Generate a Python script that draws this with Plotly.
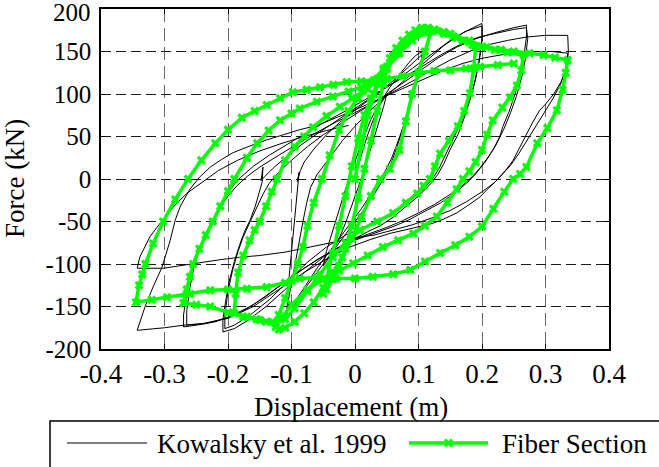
import plotly.graph_objects as go

# ---------------------------------------------------------------
# Cyclic force-displacement response: (displacement m, force kN)
# ---------------------------------------------------------------

# Kowalsky et al. 1999 test record
kow_cycle_1 = [(0, 0), (0.01, 28), (0.02, 52), (0.03, 72), (0.04, 88), (0.05, 100), (0.045, 85),
               (0.035, 60), (0.025, 35), (0.015, 12), (0.005, -10), (-0.005, -32), (-0.015, -52),
               (-0.025, -70), (-0.035, -85), (-0.045, -97), (-0.05, -102), (-0.045, -85), (-0.035, -60),
               (-0.025, -35), (-0.015, -12), (-0.005, 10), (0.005, 32), (0.015, 52), (0.025, 70),
               (0.035, 84), (0.045, 96)]

kow_cycle_2 = [(0.055, 108), (0.065, 118), (0.075, 128), (0.085, 137), (0.095, 145), (0.105, 150),
               (0.105, 142), (0.1, 125), (0.093, 105), (0.085, 82), (0.075, 58), (0.065, 35), (0.055, 15),
               (0.045, 0), (0.03, -18), (0.015, -35), (0, -50), (-0.015, -65), (-0.03, -80), (-0.045, -95),
               (-0.06, -110), (-0.075, -125), (-0.09, -142), (-0.1, -155), (-0.107, -162), (-0.107, -150),
               (-0.105, -125), (-0.102, -100), (-0.099, -75), (-0.096, -50), (-0.093, -25), (-0.09, -5),
               (-0.088, 8), (-0.091, -3), (-0.086, 10), (-0.08, 20), (-0.065, 35), (-0.045, 52),
               (-0.025, 66), (-0.005, 78), (0.02, 92), (0.045, 106), (0.07, 122), (0.09, 136), (0.105, 146),
               (0.105, 136), (0.098, 115), (0.09, 95), (0.08, 70), (0.068, 45), (0.058, 25), (0.048, 10),
               (0.04, 0), (0.025, -18), (0.01, -35), (-0.005, -50), (-0.02, -65), (-0.04, -85),
               (-0.06, -105), (-0.08, -128), (-0.095, -145), (-0.105, -155), (-0.105, -143),
               (-0.1, -122), (-0.094, -100), (-0.088, -75), (-0.082, -50), (-0.076, -28), (-0.07, -10)]

kow_cycle_3 = [(-0.06, 5), (-0.04, 25), (-0.02, 45), (0, 62), (0.02, 78), (0.05, 98), (0.08, 118),
               (0.11, 138), (0.14, 157), (0.17, 172), (0.19, 180), (0.2, 183), (0.2, 165), (0.196, 140),
               (0.19, 118), (0.182, 95), (0.172, 72), (0.162, 52), (0.15, 35), (0.14, 18), (0.13, 5),
               (0.12, -5), (0.1, -20), (0.08, -33), (0.06, -45), (0.04, -55), (0.02, -62), (0, -70),
               (-0.02, -78), (-0.05, -92), (-0.08, -110), (-0.11, -130), (-0.14, -150), (-0.17, -167),
               (-0.19, -176), (-0.208, -180), (-0.208, -165), (-0.204, -145), (-0.198, -120),
               (-0.19, -97), (-0.182, -78), (-0.174, -62), (-0.165, -48), (-0.157, -32), (-0.15, -15),
               (-0.146, -3), (-0.145, 14), (-0.148, -2), (-0.142, 3), (-0.13, 12), (-0.11, 25),
               (-0.085, 40), (-0.06, 53), (-0.03, 68), (0, 82), (0.03, 97), (0.06, 113), (0.09, 130),
               (0.12, 147), (0.15, 163), (0.175, 174), (0.2, 180), (0.2, 163), (0.195, 138),
               (0.188, 112), (0.178, 88), (0.166, 65), (0.153, 45), (0.142, 28), (0.132, 12),
               (0.122, 0), (0.105, -14), (0.085, -27), (0.06, -40), (0.035, -50), (0.01, -58),
               (-0.015, -66), (-0.045, -80), (-0.075, -98), (-0.105, -120), (-0.135, -142),
               (-0.165, -160), (-0.19, -172), (-0.205, -176), (-0.205, -160), (-0.2, -132),
               (-0.193, -108), (-0.185, -87), (-0.176, -68), (-0.165, -50), (-0.155, -33),
               (-0.145, -18), (-0.135, -5), (-0.12, 8), (-0.1, 22), (-0.075, 38), (-0.05, 52),
               (-0.02, 66), (0.01, 80), (0.04, 95), (0.07, 110), (0.1, 126), (0.13, 142), (0.16, 155),
               (0.19, 165), (0.22, 172), (0.25, 178), (0.27, 181)]

kow_cycle_4 = [(0.27, 167), (0.266, 145), (0.26, 122), (0.252, 100), (0.243, 80), (0.233, 62),
               (0.228, 50), (0.218, 35), (0.205, 20), (0.19, 6), (0.18, -2), (0.16, -15), (0.135, -28),
               (0.11, -38), (0.085, -48), (0.06, -56), (0.03, -64), (0, -72), (-0.03, -82), (-0.06, -95),
               (-0.1, -115), (-0.14, -138), (-0.18, -157), (-0.22, -168), (-0.25, -172), (-0.27, -174),
               (-0.27, -160), (-0.266, -140), (-0.26, -118), (-0.252, -97), (-0.243, -78),
               (-0.234, -62), (-0.225, -50), (-0.215, -35), (-0.203, -20), (-0.19, -6), (-0.18, 2),
               (-0.16, 15), (-0.135, 28), (-0.105, 42), (-0.075, 55), (-0.045, 68), (-0.015, 80),
               (0.015, 93), (0.045, 106), (0.075, 118), (0.105, 132), (0.135, 146), (0.165, 158),
               (0.195, 167), (0.225, 172), (0.25, 176), (0.27, 178), (0.272, 165), (0.268, 140),
               (0.262, 118), (0.254, 97), (0.245, 78), (0.234, 58), (0.222, 40), (0.21, 26),
               (0.197, 13), (0.185, 3), (0.17, -7), (0.15, -18), (0.125, -30), (0.1, -40), (0.075, -49),
               (0.05, -57), (0.02, -65), (-0.01, -74), (-0.04, -86), (-0.08, -105), (-0.12, -127),
               (-0.16, -148), (-0.2, -163), (-0.235, -170), (-0.265, -172), (-0.265, -155),
               (-0.26, -128), (-0.254, -105), (-0.246, -85), (-0.236, -66), (-0.226, -52),
               (-0.214, -36), (-0.2, -20), (-0.186, -8), (-0.17, 3), (-0.15, 14), (-0.12, 28),
               (-0.09, 42), (-0.06, 55), (-0.03, 67), (0, 78), (0.03, 90), (0.06, 102), (0.09, 115),
               (0.12, 128), (0.15, 140), (0.18, 150), (0.21, 158), (0.24, 163), (0.27, 167),
               (0.3, 169), (0.335, 169)]

kow_cycle_5 = [(0.336, 150), (0.334, 132), (0.325, 115), (0.313, 100), (0.3, 88), (0.291, 81),
               (0.28, 67), (0.27, 52), (0.26, 37), (0.249, 22), (0.237, 10), (0.224, -1), (0.21, -11),
               (0.197, -21), (0.18, -30), (0.16, -40), (0.14, -47), (0.123, -52), (0.09, -58),
               (0.055, -64), (0.025, -71), (-0.008, -80), (-0.04, -92), (-0.08, -110), (-0.12, -130),
               (-0.16, -150), (-0.2, -164), (-0.24, -170), (-0.27, -172), (-0.3, -175), (-0.343, -178),
               (-0.331, -151), (-0.318, -127), (-0.304, -104), (-0.291, -72), (-0.283, -48),
               (-0.275, -32), (-0.26, -12), (-0.245, 2), (-0.228, 14), (-0.21, 23), (-0.192, 31),
               (-0.165, 39), (-0.139, 46), (-0.113, 52), (-0.087, 58), (-0.06, 63), (-0.039, 69),
               (-0.01, 78), (0.02, 88), (0.05, 98), (0.08, 108), (0.11, 118), (0.14, 128), (0.17, 136),
               (0.2, 142), (0.23, 146), (0.26, 149), (0.29, 150), (0.31, 150), (0.335, 148),
               (0.332, 130), (0.324, 112), (0.312, 95), (0.298, 78), (0.285, 62), (0.272, 46),
               (0.258, 30), (0.245, 16), (0.232, 5), (0.22, -4), (0.2, -15), (0.175, -27), (0.15, -37),
               (0.12, -46), (0.09, -54), (0.06, -60), (0.03, -66), (0.008, -68), (-0.03, -74),
               (-0.07, -80), (-0.11, -86), (-0.15, -90), (-0.181, -92), (-0.213, -95), (-0.24, -98),
               (-0.265, -101), (-0.302, -105), (-0.343, -105), (-0.339, -92), (-0.331, -80),
               (-0.323, -68), (-0.312, -57), (-0.302, -48), (-0.285, -32), (-0.265, -17), (-0.24, -3),
               (-0.215, 10), (-0.185, 22), (-0.15, 33), (-0.115, 42), (-0.08, 50), (-0.045, 57),
               (-0.01, 63)]

# Fiber-section model prediction
fib_cycle_1 = [(0, 0), (0.01, 40), (0.02, 75), (0.03, 100), (0.04, 118), (0.05, 130), (0.045, 112),
               (0.035, 80), (0.025, 45), (0.015, 12), (0.005, -22), (-0.005, -55), (-0.015, -82),
               (-0.025, -102), (-0.035, -118), (-0.045, -130), (-0.05, -135), (-0.045, -118),
               (-0.035, -88), (-0.025, -55), (-0.015, -20), (-0.005, 15), (0.005, 48), (0.015, 75),
               (0.025, 95)]

fib_cycle_2 = [(0.035, 112), (0.045, 128), (0.055, 142), (0.065, 154), (0.075, 163), (0.085, 170),
               (0.095, 175), (0.105, 178), (0.115, 178), (0.12, 174), (0.11, 150), (0.1, 125),
               (0.09, 100), (0.08, 68), (0.07, 34), (0.055, 12), (0.04, 0), (0.025, -20), (0.01, -45),
               (-0.005, -70), (-0.02, -92), (-0.035, -110), (-0.05, -128), (-0.065, -145),
               (-0.08, -158), (-0.095, -168), (-0.11, -175), (-0.12, -177)]

fib_cycle_3 = [(-0.125, -174), (-0.12, -160), (-0.11, -140), (-0.1, -120), (-0.09, -100),
               (-0.082, -80), (-0.075, -55), (-0.065, -28), (-0.052, 0), (-0.04, 28), (-0.025, 58),
               (-0.01, 80), (0.005, 95), (0.02, 106), (0.035, 118), (0.05, 132), (0.065, 147),
               (0.08, 160), (0.095, 169), (0.11, 174), (0.125, 176), (0.14, 173), (0.155, 168),
               (0.17, 163), (0.185, 158), (0.19, 156)]

fib_cycle_4 = [(0.187, 130), (0.181, 101), (0.172, 80), (0.162, 62), (0.148, 45), (0.134, 30),
               (0.126, 15), (0.118, 0), (0.108, -8), (0.098, -17), (0.08, -28), (0.06, -40),
               (0.035, -50), (0.008, -60), (-0.015, -75), (-0.035, -92), (-0.055, -112),
               (-0.075, -132), (-0.095, -152), (-0.11, -165), (-0.125, -170), (-0.14, -168),
               (-0.155, -165), (-0.17, -162), (-0.19, -158)]

fib_cycle_5 = [(-0.188, -135), (-0.184, -110), (-0.176, -90), (-0.166, -72), (-0.158, -60),
               (-0.15, -50), (-0.14, -32), (-0.131, -15), (-0.123, 0), (-0.11, 22), (-0.095, 38),
               (-0.08, 50), (-0.066, 61), (-0.045, 74), (-0.024, 85), (-0.005, 95), (0.012, 103),
               (0.028, 115), (0.045, 130), (0.06, 145), (0.075, 158), (0.09, 167), (0.105, 172),
               (0.12, 174), (0.14, 171), (0.16, 166), (0.18, 161), (0.2, 156), (0.22, 152),
               (0.24, 149), (0.265, 146)]

fib_cycle_6 = [(0.262, 128), (0.255, 110), (0.244, 96), (0.232, 84), (0.217, 69), (0.208, 52),
               (0.2, 34), (0.19, 20), (0.18, 9), (0.17, 0), (0.16, -12), (0.145, -28), (0.129, -44),
               (0.11, -55), (0.092, -64), (0.068, -72), (0.044, -80), (0.02, -90), (-0.003, -99),
               (-0.025, -108), (-0.05, -118), (-0.075, -130), (-0.1, -148), (-0.115, -163),
               (-0.13, -168), (-0.15, -166), (-0.176, -162), (-0.2, -157), (-0.228, -150),
               (-0.25, -148), (-0.27, -146)]

fib_cycle_7 = [(-0.265, -130), (-0.26, -115), (-0.255, -100), (-0.245, -82), (-0.235, -66),
               (-0.224, -50), (-0.212, -32), (-0.2, -14), (-0.19, 0), (-0.17, 25), (-0.154, 42),
               (-0.136, 57), (-0.118, 69), (-0.1, 77), (-0.087, 83), (-0.06, 91), (-0.035, 97),
               (-0.01, 103), (0.01, 108), (0.03, 116), (0.05, 130), (0.07, 148), (0.09, 163),
               (0.11, 172), (0.13, 174), (0.15, 171), (0.18, 163), (0.207, 155), (0.23, 152),
               (0.25, 150), (0.275, 148), (0.297, 146), (0.315, 143), (0.335, 140)]

fib_cycle_8 = [(0.332, 125), (0.327, 105), (0.318, 81), (0.303, 60), (0.287, 42), (0.27, 14),
               (0.26, 6), (0.249, 0), (0.235, -15), (0.218, -35), (0.2, -56), (0.18, -68),
               (0.158, -78), (0.134, -87), (0.11, -97), (0.087, -107), (0.06, -112), (0.028, -115),
               (0.0, -117), (-0.03, -117), (-0.06, -116), (-0.087, -117), (-0.11, -122),
               (-0.139, -127), (-0.17, -129), (-0.2, -130), (-0.228, -131), (-0.26, -135),
               (-0.296, -139), (-0.32, -142), (-0.345, -145)]

fib_cycle_9 = [(-0.34, -125), (-0.335, -112), (-0.33, -100), (-0.318, -76), (-0.302, -50),
               (-0.283, -24), (-0.263, 0), (-0.242, 22), (-0.22, 42), (-0.2, 58), (-0.178, 72),
               (-0.158, 80), (-0.139, 87), (-0.118, 95), (-0.098, 102), (-0.076, 105), (-0.055, 108),
               (-0.034, 111), (-0.013, 114), (0.01, 115), (0.03, 116), (0.05, 118), (0.075, 121),
               (0.1, 125), (0.125, 127), (0.15, 128), (0.175, 130), (0.197, 132), (0.225, 134),
               (0.25, 136)]

kow_cycles = [kow_cycle_1, kow_cycle_2, kow_cycle_3, kow_cycle_4, kow_cycle_5]
fib_cycles = [fib_cycle_1, fib_cycle_2, fib_cycle_3, fib_cycle_4, fib_cycle_5,
              fib_cycle_6, fib_cycle_7, fib_cycle_8, fib_cycle_9]

x_ticks = [-0.4, -0.3, -0.2, -0.1, 0, 0.1, 0.2, 0.3, 0.4]
x_tick_text = ["-0.4", "-0.3", "-0.2", "-0.1", "0", "0.1", "0.2", "0.3", "0.4"]
y_ticks = [-200, -150, -100, -50, 0, 50, 100, 150, 200]
y_tick_text = ["-200", "-150", "-100", "-50", "0", "50", "100", "150", "200"]

series_names = ["Kowalsky et al. 1999", "Fiber Section"]


def unpack(cycles):
    xs, ys = [], []
    for cyc in cycles:
        for d, f in cyc:
            xs.append(d)
            ys.append(f)
    return xs, ys


kow_x, kow_f = unpack(kow_cycles)
fib_x, fib_f = unpack(fib_cycles)

FONT = "Liberation Serif"
FSIZE = 27
GREEN = "#00ff00"

fig = go.Figure()
fig.add_trace(go.Scatter(x=kow_x, y=kow_f, mode="lines", name=series_names[0],
                         line=dict(color="black", width=1), showlegend=False))
fig.add_trace(go.Scatter(x=fib_x, y=fib_f, mode="lines+markers", name=series_names[1],
                         line=dict(color=GREEN, width=3.5),
                         marker=dict(symbol="x", size=8, color=GREEN, line=dict(width=0)),
                         showlegend=False))

axis_common = dict(showline=True, mirror="ticks", linecolor="black", linewidth=1.5,
                   ticks="inside", ticklen=5, tickcolor="black", ticklabeloverflow="allow",
                   showgrid=True, gridwidth=1, zeroline=False)

# the topmost y label sits a little below its gridline so it stays inside the page
y_tick_shown = y_tick_text[:-1] + [""]

fig.update_xaxes(range=[-0.4, 0.4], tickvals=x_ticks, ticktext=x_tick_text,
                 gridcolor="#6a6a6a", griddash="13px,6px",
                 tickfont=dict(family=FONT, size=FSIZE, color="black"), **axis_common)
fig.update_yaxes(range=[-200, 200], tickvals=y_ticks, ticktext=y_tick_shown,
                 gridcolor="#1a1a1a", griddash="10px,5px", ticklabelstandoff=3,
                 tickfont=dict(family=FONT, size=25, color="black"), **axis_common)


def px_x(p):
    return (p - 101) / 508


def px_y(p):
    return (349 - p) / 340


shapes = [
    # legend frame
    dict(type="rect", xref="paper", yref="paper", x0=px_x(50), x1=px_x(720),
         y0=px_y(520), y1=px_y(421), line=dict(color="black", width=1.5), fillcolor="white",
         layer="above"),
    dict(type="line", xref="paper", yref="paper", x0=px_x(67), x1=px_x(147),
         y0=px_y(443), y1=px_y(443), line=dict(color="black", width=1), layer="above"),
    dict(type="line", xref="paper", yref="paper", x0=px_x(409), x1=px_x(488),
         y0=px_y(443), y1=px_y(443), line=dict(color=GREEN, width=3.5), layer="above"),
    dict(type="line", xref="paper", yref="paper", x0=px_x(445), x1=px_x(452),
         y0=px_y(439.5), y1=px_y(446.5), line=dict(color=GREEN, width=3), layer="above"),
    dict(type="line", xref="paper", yref="paper", x0=px_x(445), x1=px_x(452),
         y0=px_y(446.5), y1=px_y(439.5), line=dict(color=GREEN, width=3), layer="above"),
]

annotations = [
    dict(text=y_tick_text[-1], xref="paper", yref="paper", x=px_x(93), y=px_y(13),
         showarrow=False, xanchor="right", yanchor="middle",
         font=dict(family=FONT, size=25, color="black")),
    dict(text="Force (kN)", xref="paper", yref="paper", x=px_x(15), y=0.5, textangle=-90,
         showarrow=False, xanchor="center", yanchor="middle",
         font=dict(family=FONT, size=FSIZE, color="black")),
    dict(text="Displacement (m)", xref="paper", yref="paper", x=px_x(351), y=px_y(407),
         showarrow=False, xanchor="center", yanchor="middle",
         font=dict(family=FONT, size=FSIZE, color="black")),
    dict(text=series_names[0], xref="paper", yref="paper", x=px_x(155), y=px_y(444),
         showarrow=False, xanchor="left", yanchor="middle",
         font=dict(family=FONT, size=FSIZE, color="black")),
    dict(text=series_names[1], xref="paper", yref="paper", x=px_x(500), y=px_y(444),
         showarrow=False, xanchor="left", yanchor="middle",
         font=dict(family=FONT, size=FSIZE, color="black")),
]

fig.update_layout(width=659, height=467, margin=dict(l=101, r=50, t=9, b=118, autoexpand=False),
                  paper_bgcolor="white", plot_bgcolor="white", font=dict(family=FONT),
                  shapes=shapes, annotations=annotations, showlegend=False)

fig.write_html("out.html")
